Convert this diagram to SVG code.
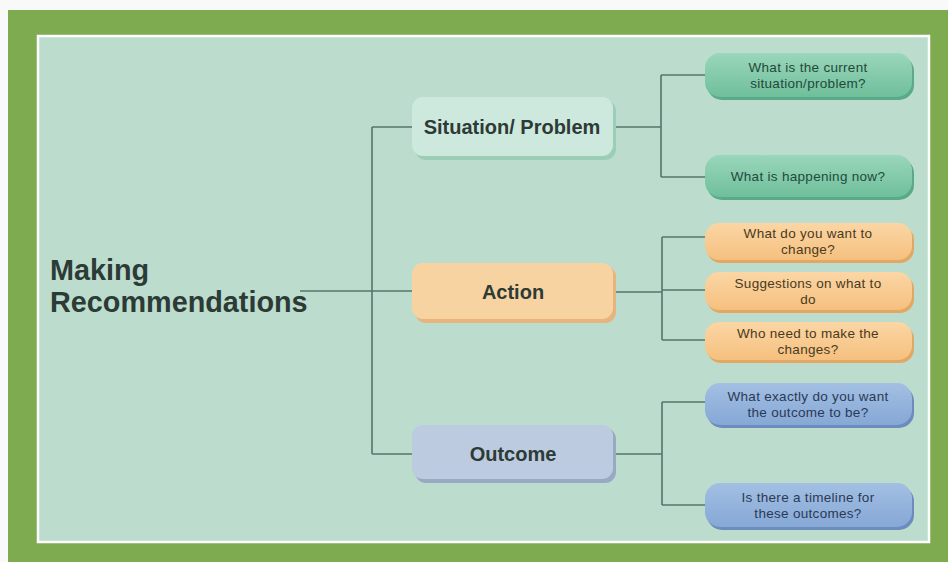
<svg xmlns="http://www.w3.org/2000/svg" width="948" height="562" viewBox="0 0 948 562">
<defs>
<linearGradient id="gGreen" x1="0" y1="0" x2="0" y2="1"><stop offset="0" stop-color="#9ad6bb"/><stop offset="1" stop-color="#6fbf9b"/></linearGradient>
<linearGradient id="gOrange" x1="0" y1="0" x2="0" y2="1"><stop offset="0" stop-color="#fbd6a4"/><stop offset="1" stop-color="#f5c07f"/></linearGradient>
<linearGradient id="gBlue" x1="0" y1="0" x2="0" y2="1"><stop offset="0" stop-color="#a3bfe3"/><stop offset="1" stop-color="#86a8d6"/></linearGradient>
<style>
.conn{stroke:#56756a;stroke-width:1.6;fill:none}
.title{font-family:"Liberation Sans",Arial,sans-serif;font-weight:bold;font-size:28.8px;fill:#2c3b35}
.main{font-family:"Liberation Sans",Arial,sans-serif;font-weight:bold;font-size:20px;fill:#2d3a35;text-anchor:middle}
.leaf{font-family:"Liberation Sans",Arial,sans-serif;font-size:13.5px;letter-spacing:0.3px;text-anchor:middle}
.tg{fill:#1f4a3a}.to{fill:#4a3a22}.tb{fill:#2a3a55}
</style>
</defs>
<rect x="0" y="0" width="948" height="562" fill="#f8f9f8"/>
<rect x="8" y="10" width="940" height="552" fill="#7eab50"/>
<rect x="38" y="36" width="891" height="506" fill="#bcdccd" stroke="#ffffff" stroke-width="2.5"/>

<g id="connectors">
<path class="conn" d="M300 291 H412 M372 127 V454 M372 127 H412 M372 454 H412"/>
<path class="conn" d="M613 127 H661 M661 75 V177 M661 75 H705 M661 177 H705"/>
<path class="conn" d="M613 292 H662 M662 237 V340 M662 237 H705 M662 290 H705 M662 340 H705"/>
<path class="conn" d="M613 454 H662 M662 402 V505 M662 402 H705 M662 505 H705"/>
</g>

<g id="title">
<text class="title" x="50" y="280">Making</text>
<text class="title" x="50" y="312">Recommendations</text>
</g>

<g id="situation">
<rect x="415" y="100" width="201" height="60" rx="11" fill="#9ccdb7"/>
<rect x="412" y="97" width="201" height="59" rx="11" fill="#cde9de"/>
<text class="main" x="512" y="134">Situation/ Problem</text>
</g>
<g id="action">
<rect x="415" y="266" width="201" height="57" rx="11" fill="#e6b47c"/>
<rect x="412" y="263" width="201" height="56" rx="11" fill="#f8d3a2"/>
<text class="main" x="513" y="299">Action</text>
</g>
<g id="outcome">
<rect x="415" y="428" width="201" height="55" rx="11" fill="#98aac3"/>
<rect x="412" y="425" width="201" height="54" rx="11" fill="#bccbe0"/>
<text class="main" x="513" y="461">Outcome</text>
</g>

<g id="leaf-current">
<rect x="707" y="56" width="207" height="44" rx="15" fill="#5aa987"/>
<rect x="705" y="53" width="207" height="44" rx="15" fill="url(#gGreen)"/>
<text class="leaf tg" x="808" y="72">What is the current</text>
<text class="leaf tg" x="808" y="87.5">situation/problem?</text>
</g>
<g id="leaf-happening">
<rect x="707" y="158" width="207" height="42" rx="15" fill="#5aa987"/>
<rect x="705" y="155" width="207" height="42" rx="15" fill="url(#gGreen)"/>
<text class="leaf tg" x="808" y="181">What is happening now?</text>
</g>

<g id="leaf-change">
<rect x="707" y="226" width="207" height="37" rx="14" fill="#e3a764"/>
<rect x="705" y="223" width="207" height="37" rx="14" fill="url(#gOrange)"/>
<text class="leaf to" x="808" y="238">What do you want to</text>
<text class="leaf to" x="808" y="253.5">change?</text>
</g>
<g id="leaf-suggestions">
<rect x="707" y="275" width="207" height="38" rx="14" fill="#e3a764"/>
<rect x="705" y="272" width="207" height="38" rx="14" fill="url(#gOrange)"/>
<text class="leaf to" x="808" y="288">Suggestions on what to</text>
<text class="leaf to" x="808" y="303.5">do</text>
</g>
<g id="leaf-who">
<rect x="707" y="325" width="207" height="38" rx="14" fill="#e3a764"/>
<rect x="705" y="322" width="207" height="38" rx="14" fill="url(#gOrange)"/>
<text class="leaf to" x="808" y="338">Who need to make the</text>
<text class="leaf to" x="808" y="353.5">changes?</text>
</g>

<g id="leaf-exactly">
<rect x="707" y="386" width="207" height="42" rx="15" fill="#6b8cbc"/>
<rect x="705" y="383" width="207" height="42" rx="15" fill="url(#gBlue)"/>
<text class="leaf tb" x="808" y="401">What exactly do you want</text>
<text class="leaf tb" x="808" y="416.5">the outcome to be?</text>
</g>
<g id="leaf-timeline">
<rect x="707" y="486" width="207" height="44" rx="15" fill="#6b8cbc"/>
<rect x="705" y="483" width="207" height="44" rx="15" fill="url(#gBlue)"/>
<text class="leaf tb" x="808" y="502">Is there a timeline for</text>
<text class="leaf tb" x="808" y="517.5">these outcomes?</text>
</g>
</svg>
